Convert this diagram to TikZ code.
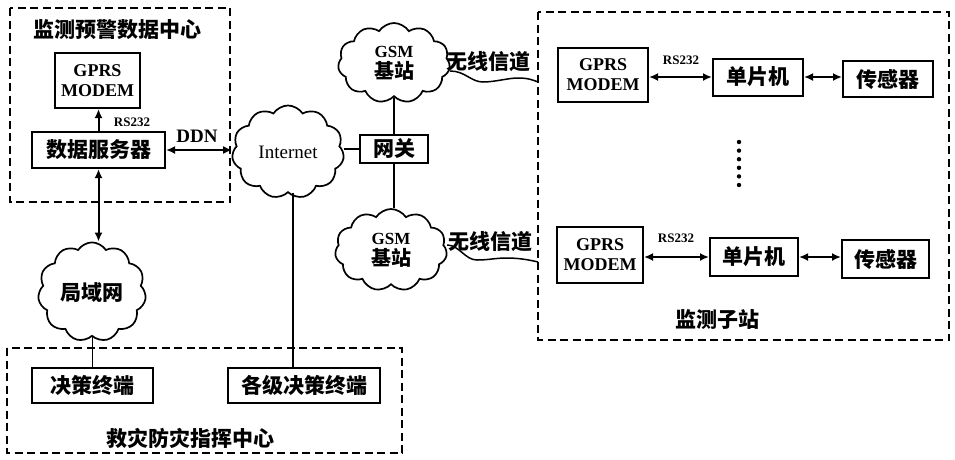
\documentclass[tikz,border=0pt]{standalone}
\usepackage{fontspec}
\setmainfont{Liberation Serif}
\newfontfamily\cjk{Noto Sans CJK SC}
\usetikzlibrary{shapes.symbols,arrows.meta}
\begin{document}
\begin{tikzpicture}[x=1pt,y=-1pt,
  box/.style={draw, line width=2pt, inner sep=0pt, align=center},
  grp/.style={draw, dash pattern=on 8pt off 4.5pt, line width=2pt},
  cl/.style={cloud, draw, cloud puffs=11, cloud puff arc=115, inner sep=0pt, line width=1.7pt, align=center},
  con/.style={line width=1.8pt},
  arr/.style={line width=2pt, {Latex[length=9pt,width=8pt]}-{Latex[length=9pt,width=8pt]}},
  uarr/.style={line width=2pt, -{Latex[length=9pt,width=8pt]}},
  zh/.style={font=\cjk\bfseries\fontsize{21}{23}\selectfont},
  en/.style={font=\bfseries\fontsize{18}{20}\selectfont},
  sm/.style={font=\bfseries\fontsize{13}{14}\selectfont}
]
\useasboundingbox (0,0) rectangle (955,459);

% group frames
\draw[grp] (10,8) rectangle (230,202);
\draw[grp] (538,12) rectangle (949,340);
\draw[grp] (7,348) rectangle (402,453);

\node[zh] (t1) at (117,30) {监测预警数据中心};
\node[zh] (t2) at (717,320) {监测子站};
\node[zh] (t3) at (190,438) {救灾防灾指挥中心};

% data center
\node[box, en, minimum width=85pt, minimum height=55pt] (gprs0) at (97.5,80.5) {GPRS\\MODEM};
\node[box, zh, minimum width=133pt, minimum height=36pt] (server) at (98.5,150) {数据服务器};

% clouds
\node[cl, minimum width=112pt, minimum height=66pt, font=\fontsize{19}{20}\selectfont] (inet) at (288,152) {Internet};
\node[cl, minimum width=112pt, minimum height=80pt] (gsm1) at (394,63) {{\bfseries\fontsize{17}{18}\selectfont GSM}\\[3pt]{\cjk\bfseries\fontsize{20}{21}\selectfont 基站}};
\node[cl, minimum width=112pt, minimum height=82pt] (gsm2) at (391,250) {{\bfseries\fontsize{17}{18}\selectfont GSM}\\[3pt]{\cjk\bfseries\fontsize{20}{21}\selectfont 基站}};
\node[cl, zh, minimum width=108pt, minimum height=70pt] (lan) at (92,292) {局域网};

\node[box, zh, minimum width=68pt, minimum height=28pt] (gw) at (394,149) {网关};

% substations
\node[box, en, minimum width=90pt, minimum height=54pt] (gprs1) at (603,75) {GPRS\\MODEM};
\node[box, zh, minimum width=90pt, minimum height=37pt] (mcu1) at (758,77) {单片机};
\node[box, zh, minimum width=90pt, minimum height=36pt] (sen1) at (888,79) {传感器};
\node[box, en, minimum width=86pt, minimum height=56pt] (gprs2) at (600,255) {GPRS\\MODEM};
\node[box, zh, minimum width=88pt, minimum height=38pt] (mcu2) at (754,257) {单片机};
\node[box, zh, minimum width=87pt, minimum height=38pt] (sen2) at (885.5,259) {传感器};

% command center
\node[box, zh, minimum width=121pt, minimum height=35pt] (dt1) at (92.5,385) {决策终端};
\node[box, zh, minimum width=152pt, minimum height=35pt] (dt2) at (304,385.5) {各级决策终端};

% labels
\node[sm] (rs0) at (132,122) {RS232};
\node[font=\bfseries\fontsize{19}{20}\selectfont] (ddn) at (197,136) {DDN};
\node[sm] (rs1) at (681,60) {RS232};
\node[sm] (rs2) at (676,238) {RS232};
\node[zh] (w1) at (488,62) {无线信道};
\node[zh] (w2) at (490,242) {无线信道};

% connectors
\draw[uarr] (server.north) -- (server.north |- gprs0.south);
\draw[arr] (server.east) -- (server.east -| inet.west);
\draw[arr] (server.south) -- (server.south |- lan.north);
\draw[con] (lan.south -| dt1.north) -- (dt1.north);
\draw[con] ([xshift=5pt]inet.south) -- ([xshift=5pt]inet.south |- dt2.north);
\draw[con] (gw.west -| inet.east) -- (gw.west);
\draw[con] (gsm1.south) -- (gw.north);
\draw[con] (gw.south) -- (gw.south |- gsm2.north);

\coordinate (e1) at (538,82);
\coordinate (e2) at (538,262);
\draw[line width=1.5pt] (gsm1.east) ++(0,8) .. controls +(15,0) and +(-12,0) .. (483,82)
   .. controls +(12,0) and +(-10,0) .. (518,78) .. controls +(10,0) and +(-5,-2) .. (e1);
\draw[line width=1.5pt] ([yshift=5pt]gsm2.east) .. controls +(12,0) and +(-12,0) .. (477,260)
   .. controls +(12,0) and +(-12,0) .. (507,258) .. controls +(12,0) and +(-8,-2) .. (e2);

\draw[arr] (gprs1.east |- mcu1.west) -- (mcu1.west);
\draw[arr] (mcu1.east) -- (mcu1.east -| sen1.west);
\draw[arr] (gprs2.east |- mcu2.west) -- (mcu2.west);
\draw[arr] (mcu2.east) -- (mcu2.east -| sen2.west);

% dots
\foreach \i in {0,...,5} \fill (739,142+8.6*\i) circle (2.2pt);
\end{tikzpicture}
\end{document}
